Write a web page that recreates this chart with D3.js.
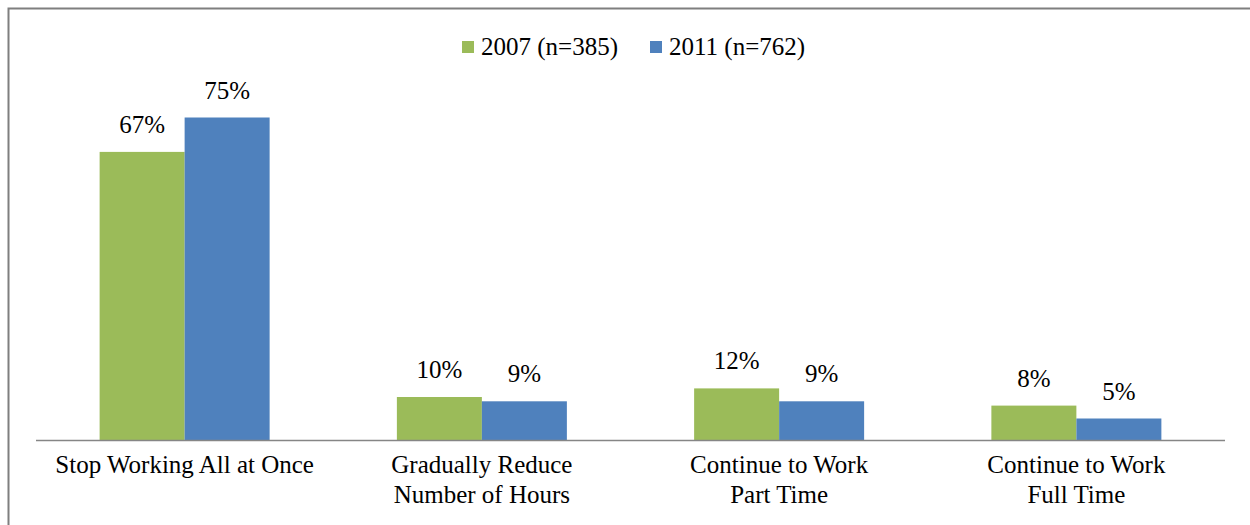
<!DOCTYPE html>
<html>
<head>
<meta charset="utf-8">
<script src="https://cdn.jsdelivr.net/npm/d3@7"></script>
<style>
  body { margin: 0; background: #fff; }
</style>
</head>
<body>
<svg id="chart" width="1250" height="525"></svg>
<script>
// chart data
var categories = [
  ["Stop Working All at Once"],
  ["Gradually Reduce", "Number of Hours"],
  ["Continue to Work", "Part Time"],
  ["Continue to Work", "Full Time"]
];
var seriesNames = ["2007 (n=385)", "2011 (n=762)"];
var values2007 = [67, 10, 12, 8];
var values2011 = [75, 9, 9, 5];
var colors = ["#9bbb59", "#4f81bd"];

var FONT = "'Liberation Serif', 'Times New Roman', Tinos, serif";
var FS = 25;

var svg = d3.select("#chart")
    .attr("font-family", FONT);

// outer frame (extends past right/bottom edge like the source crop)
svg.append("rect")
    .attr("x", 8.5).attr("y", 8.5)
    .attr("width", 1260).attr("height", 540)
    .attr("fill", "none")
    .attr("stroke", "#7f7f7f")
    .attr("stroke-width", 2);

var left = 36, right = 1225, base = 440;

var x0 = d3.scaleBand()
    .domain(d3.range(categories.length))
    .range([left, right])
    .paddingInner(0)
    .paddingOuter(0);

var barW = 85;
var y = d3.scaleLinear().domain([0, 75]).range([base, 117.5]);

var series = [values2007, values2011];

series.forEach(function(vals, si) {
  var g = svg.append("g");
  g.selectAll("rect")
    .data(vals)
    .enter().append("rect")
      .attr("x", function(d, i) { return x0(i) + x0.bandwidth() / 2 - barW + si * barW; })
      .attr("y", function(d) { return y(d); })
      .attr("width", barW)
      .attr("height", function(d) { return base - y(d); })
      .attr("fill", colors[si]);

  g.selectAll("text")
    .data(vals)
    .enter().append("text")
      .attr("x", function(d, i) { return x0(i) + x0.bandwidth() / 2 - barW / 2 + si * barW; })
      .attr("y", function(d) { return y(d) - 19; })
      .attr("text-anchor", "middle")
      .attr("font-size", FS)
      .text(function(d) { return d + "%"; });
});

// baseline axis
svg.append("line")
    .attr("x1", left).attr("x2", right)
    .attr("y1", base + 0.5).attr("y2", base + 0.5)
    .attr("stroke", "#868686")
    .attr("stroke-width", 1.5);

// category labels
var lab = svg.selectAll(".cat")
  .data(categories)
  .enter().append("text")
    .attr("class", "cat")
    .attr("text-anchor", "middle")
    .attr("x", function(d, i) { return x0(i) + x0.bandwidth() / 2; })
    .attr("y", 473)
    .attr("font-size", FS);

lab.each(function(d, i) {
  var t = d3.select(this);
  d.forEach(function(line, j) {
    t.append("tspan")
      .attr("x", x0(i) + x0.bandwidth() / 2)
      .attr("dy", j === 0 ? 0 : 30)
      .text(line);
  });
});

// legend
var legendX = [462, 650];
var leg = svg.selectAll(".leg")
  .data(seriesNames)
  .enter().append("g")
    .attr("class", "leg")
    .attr("transform", function(d, i) { return "translate(" + legendX[i] + ",0)"; });

leg.append("rect")
    .attr("x", 0).attr("y", 41)
    .attr("width", 12).attr("height", 12)
    .attr("fill", function(d, i) { return colors[i]; });

leg.append("text")
    .attr("x", 19).attr("y", 55)
    .attr("font-size", FS)
    .text(function(d) { return d; });
</script>
</body>
</html>
